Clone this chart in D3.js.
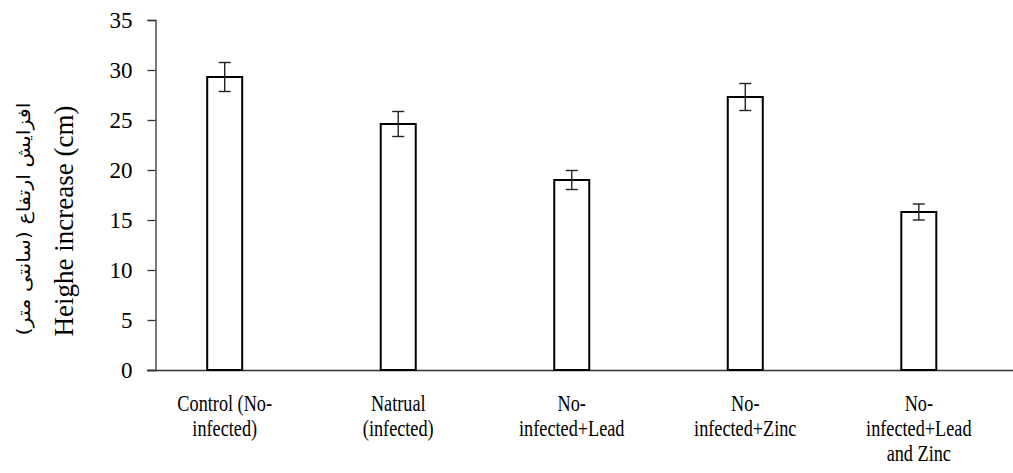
<!DOCTYPE html>
<html>
<head>
<meta charset="utf-8">
<script src="https://cdn.jsdelivr.net/npm/d3@7"></script>
<style>
  body { margin: 0; background: #fff; }
  text { font-family: "Liberation Serif", "Times New Roman", serif; fill: #000; }
</style>
</head>
<body>
<div id="chart"></div>
<script>
// data
var categories = ["Control (No-infected)", "Natrual (infected)", "No-infected+Lead", "No-infected+Zinc", "No-infected+Lead and Zinc"];
var labelLines = [["Control (No-", "infected)"], ["Natrual", "(infected)"], ["No-", "infected+Lead"], ["No-", "infected+Zinc"], ["No-", "infected+Lead", "and Zinc"]];
var values = [29.3, 24.6, 19.0, 27.3, 15.8];
var errors = [1.45, 1.25, 0.95, 1.35, 0.8];
var yTicks = [0, 5, 10, 15, 20, 25, 30, 35];

var w = 1013, h = 473;

var svg = d3.select("#chart").append("svg")
  .attr("width", w)
  .attr("height", h);

// scales
var x = d3.scalePoint()
  .domain(categories)
  .range([224.7, 918.8]);

var y = d3.scaleLinear()
  .domain([0, 35])
  .range([370, 20]);

var barW = 35;

// y axis
var yAxis = svg.append("g")
  .attr("transform", "translate(155.5,0)")
  .call(d3.axisLeft(y).tickValues(yTicks).tickSize(8).tickPadding(15));
yAxis.attr("font-family", null).attr("font-size", null);
yAxis.select(".domain").attr("stroke", "#333").attr("stroke-width", 1.3);
yAxis.selectAll(".tick line").attr("stroke", "#333").attr("stroke-width", 1.3);
yAxis.selectAll(".tick text")
  .style("font-size", "23px")
  .attr("dy", "0.34em");

// x axis line
svg.append("line")
  .attr("x1", 147).attr("x2", w)
  .attr("y1", y(0) + 0.5).attr("y2", y(0) + 0.5)
  .attr("stroke", "#333")
  .attr("stroke-width", 1.3);

// bars
svg.append("g")
  .selectAll("rect")
  .data(values)
  .enter()
  .append("rect")
  .attr("x", function(d, i){ return x(categories[i]) - barW / 2; })
  .attr("y", function(d){ return y(d); })
  .attr("width", barW)
  .attr("height", function(d){ return y(0) - y(d); })
  .attr("fill", "#fff")
  .attr("stroke", "#000")
  .attr("stroke-width", 2);

// error bars
var err = svg.append("g")
  .selectAll("g")
  .data(values)
  .enter()
  .append("g")
  .attr("stroke", "#222")
  .attr("stroke-width", 1.4);

err.append("line")
  .attr("x1", function(d, i){ return x(categories[i]); })
  .attr("x2", function(d, i){ return x(categories[i]); })
  .attr("y1", function(d, i){ return y(d + errors[i]); })
  .attr("y2", function(d, i){ return y(d - errors[i]); });

[1, -1].forEach(function(s){
  err.append("line")
    .attr("x1", function(d, i){ return x(categories[i]) - 6; })
    .attr("x2", function(d, i){ return x(categories[i]) + 6; })
    .attr("y1", function(d, i){ return y(d + s * errors[i]); })
    .attr("y2", function(d, i){ return y(d + s * errors[i]); });
});

// category labels (condensed like the original)
var lab = svg.append("g")
  .selectAll("text")
  .data(labelLines)
  .enter()
  .append("text")
  .attr("text-anchor", "middle")
  .style("font-size", "24px")
  .attr("transform", function(d, i){ return "translate(" + x(categories[i]) + ",411) scale(0.76,1)"; });

lab.selectAll("tspan")
  .data(function(d){ return d; })
  .enter()
  .append("tspan")
  .attr("x", 0)
  .attr("y", function(d, j){ return j * 25; })
  .text(function(d){ return d; });

// y axis titles
svg.append("text")
  .attr("transform", "translate(73,221) rotate(-90)")
  .attr("text-anchor", "middle")
  .style("font-size", "27px")
  .text("Heighe increase (cm)");

svg.append("text")
  .attr("transform", "translate(30,219) rotate(-90) scale(1.15,1)")
  .attr("text-anchor", "middle")
  .style("font-family", "'DejaVu Sans', 'Noto Sans', sans-serif")
  .style("font-size", "18px")
  .attr("direction", "rtl")
  .text("افزایش ارتفاع (سانتی متر)");
</script>
</body>
</html>
